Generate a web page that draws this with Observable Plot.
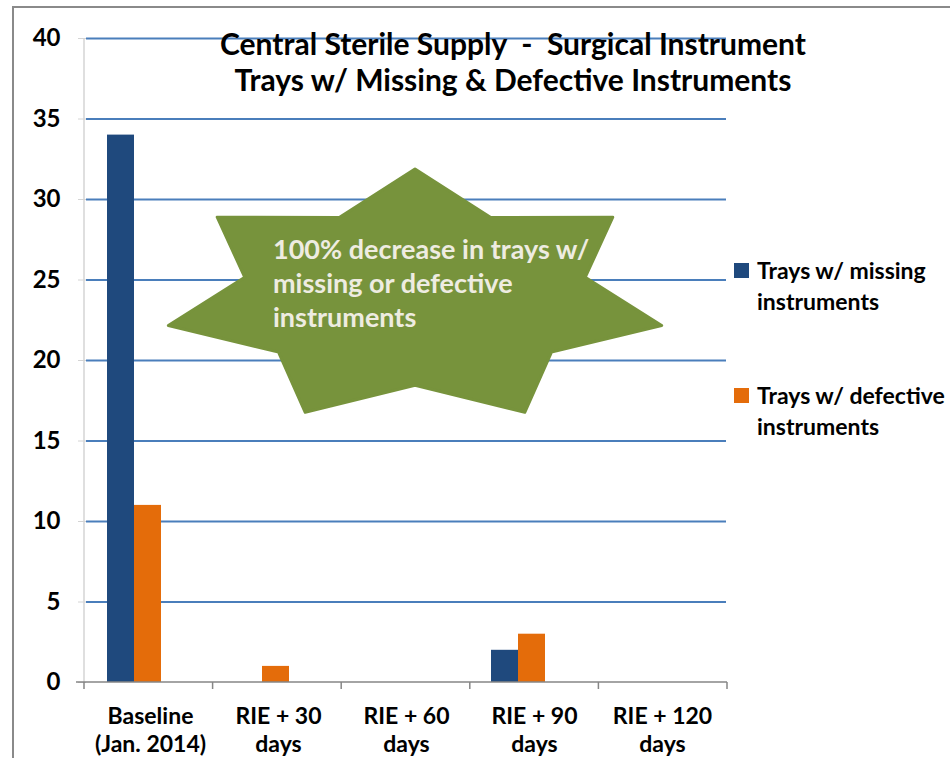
<!DOCTYPE html>
<html>
<head>
<meta charset="utf-8">
<script src="https://cdn.jsdelivr.net/npm/d3@7"></script>
<script src="https://cdn.jsdelivr.net/npm/@observablehq/plot@0.6"></script>
<style>
  body { margin: 0; background: #fff; font-family: Lato, "Open Sans", sans-serif; }
  #wrap { position: relative; width: 950px; height: 758px; overflow: hidden; background: #fff; }
  #frame { position: absolute; left: 12px; top: 6px; width: 936px; height: 800px;
           border-left: 2px solid #8a8a8a; border-top: 2px solid #8a8a8a; border-right: 1px solid #d0d0d0; }
  #wrap svg { position: absolute; left: 0; top: 0; }
  #title { position: absolute; left: 163px; width: 700px; top: 25px; text-align: center;
           font-weight: 700; font-size: 30px; line-height: 36px; color: #000; white-space: nowrap; }
  .leg { position: absolute; left: 734px; font-weight: 700; font-size: 23px; line-height: 31px; color: #000; }
  .leg .sw { position: absolute; left: 0; top: 8px; width: 15px; height: 15px; }
  .leg .tx { margin-left: 23px; white-space: nowrap; }
</style>
</head>
<body>
<div id="wrap">
  <div id="frame"></div>
  <div id="title">Central Sterile Supply&nbsp; -&nbsp; Surgical Instrument<br>Trays w/ Missing &amp; Defective Instruments</div>
</div>
<script>
// ---- data ----
const categories = ["Baseline\n(Jan. 2014)", "RIE + 30\ndays", "RIE + 60\ndays", "RIE + 90\ndays", "RIE + 120\ndays"];
const seriesNames = ["Trays w/ missing instruments", "Trays w/ defective instruments"];
const legendLines = [["Trays w/ missing", "instruments"], ["Trays w/ defective", "instruments"]];
const missingValues = [34, 0, 0, 2, 0];
const defectiveValues = [11, 1, 0, 3, 0];
const yTicks = [0, 5, 10, 15, 20, 25, 30, 35, 40];
const seriesColors = ["#1F497D", "#E46C0A"];
const calloutLines = ["100% decrease in trays w/", "missing or defective", "instruments"];

const data = [];
categories.forEach((c, i) => {
  data.push({cat: c, series: seriesNames[0], value: missingValues[i]});
  data.push({cat: c, series: seriesNames[1], value: defectiveValues[i]});
});

const chart = Plot.plot({
  width: 950,
  height: 758,
  marginLeft: 84,
  marginRight: 223,
  marginTop: 38,
  marginBottom: 76,
  style: {fontFamily: "Lato, 'Open Sans', sans-serif", fontWeight: "700", fontSize: "23px", background: "transparent", color: "#000", overflow: "visible"},
  fx: {domain: categories, padding: 0, label: null},
  x: {domain: seriesNames, axis: null, paddingInner: 0, paddingOuter: 1.3, align: 0.29},
  y: {domain: [0, 40], label: null},
  color: {domain: seriesNames, range: seriesColors},
  marks: [
    Plot.ruleY(yTicks.filter(d => d > 0), {y: d => d, stroke: "#4A7EBB", strokeWidth: 1.8}),
    Plot.barY(data, {fx: "cat", x: "series", y: "value", fill: "series"}),
    Plot.axisY({ticks: yTicks, tickSize: 8, tickPadding: 18, stroke: "#d4d4d4", fill: "#000", label: null, fontSize: 24}),
    Plot.axisFx({anchor: "bottom", tickSize: 0, tickPadding: 22, label: null, fontSize: 23, lineHeight: 1.22, fill: "#000"})
  ]
});

const wrap = document.getElementById("wrap");
wrap.insertBefore(chart, document.getElementById("title"));

// ---- decorations derived from scales ----
const svg = d3.select(chart);
const ys = chart.scale("y");
const fxs = chart.scale("fx");
const y0 = ys.apply(0), yTop = ys.apply(40);
const xLeft = fxs.range[0], xRight = fxs.range[1];
const step = (xRight - xLeft) / categories.length;

const g = svg.append("g").attr("text-anchor", "start");
g.append("line").attr("x1", xLeft).attr("x2", xLeft).attr("y1", yTop).attr("y2", y0)
  .attr("stroke", "#d4d4d4").attr("stroke-width", 1.5);
g.append("line").attr("x1", xLeft - 8).attr("x2", xRight).attr("y1", y0).attr("y2", y0)
  .attr("stroke", "#868686").attr("stroke-width", 1.5);
d3.range(categories.length + 1).forEach(i => {
  const x = xLeft + i * step;
  g.append("line").attr("x1", x).attr("x2", x).attr("y1", y0).attr("y2", y0 + 7)
    .attr("stroke", "#868686").attr("stroke-width", 1.5);
});

// ---- seven-point star callout ----
const cx = 415, cy = 297, rx = 253, ry = 128, inner = 0.69;
const pts = [];
for (let k = 0; k < 14; k++) {
  const a = -Math.PI / 2 + k * Math.PI / 7;
  const r = k % 2 === 0 ? 1 : inner;
  pts.push([cx + Math.cos(a) * rx * r, cy + Math.sin(a) * ry * r]);
}
g.append("polygon").attr("points", pts.map(p => p.join(",")).join(" "))
  .attr("fill", "#77933C").attr("stroke", "#77933C").attr("stroke-width", 3).attr("stroke-linejoin", "round");
const t = g.append("text").attr("x", 273).attr("y", 259).attr("text-anchor", "start")
  .attr("fill", "#EEECE1").attr("font-size", 27).attr("font-weight", 700)
  .attr("font-family", "Lato, 'Open Sans', sans-serif");
calloutLines.forEach((line, i) => {
  t.append("tspan").attr("x", 273).attr("dy", i === 0 ? 0 : 34).text(line);
});

// ---- legend ----
const legendTops = [255, 380];
seriesNames.forEach((s, i) => {
  const d = document.createElement("div");
  d.className = "leg";
  d.style.top = legendTops[i] + "px";
  d.innerHTML = `<div class="sw" style="background:${seriesColors[i]}"></div><div class="tx">${legendLines[i][0]}<br>${legendLines[i][1]}</div>`;
  wrap.appendChild(d);
});
</script>
</body>
</html>
